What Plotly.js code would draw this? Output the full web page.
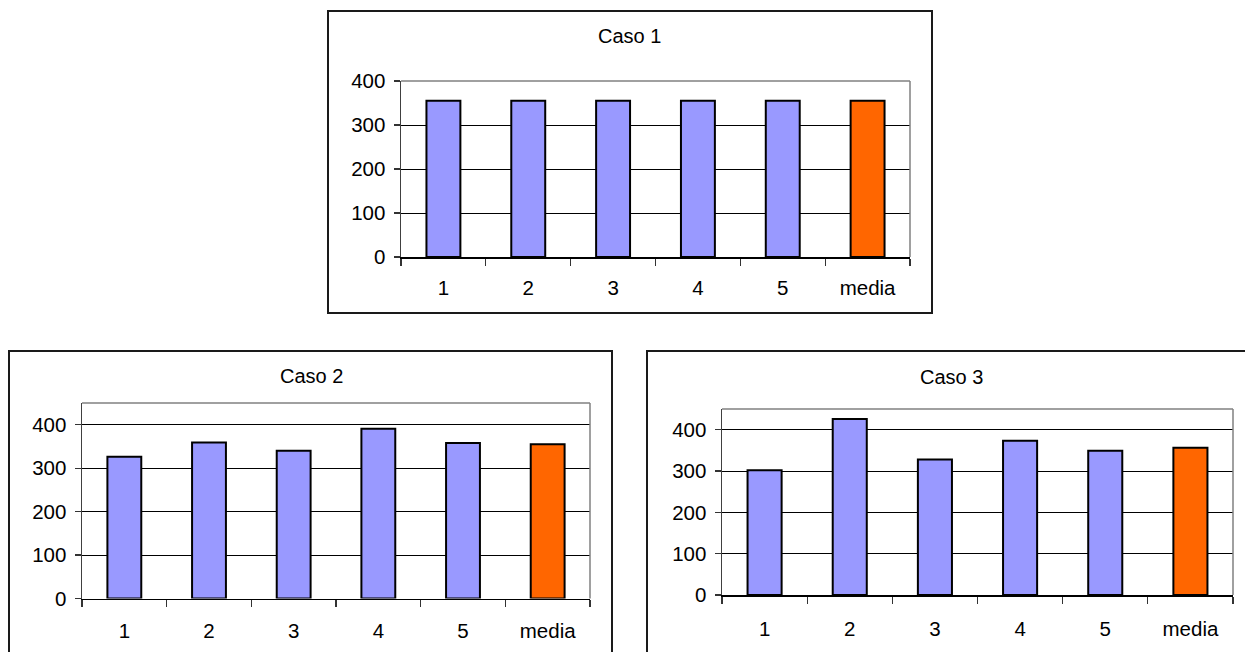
<!DOCTYPE html>
<html>
<head>
<meta charset="utf-8">
<script src="https://cdn.plot.ly/plotly-3.0.1.min.js"></script>
<style>
  html, body { margin: 0; padding: 0; background: #ffffff; }
  #chart { width: 1245px; height: 652px; }
</style>
</head>
<body>
<div id="chart"></div>
<script>
// Categories shared by the three panels
const categories = ["1", "2", "3", "4", "5", "media"];

// Values per case (last entry is the mean)
const caso1 = [355, 355, 355, 355, 355, 355];
const caso2 = [326, 359, 340, 391, 358, 355];
const caso3 = [302, 426, 328, 373, 349, 356];

const titles = ["Caso 1", "Caso 2", "Caso 3"];
const yTickVals = [0, 100, 200, 300, 400];
const yTickText = ["0", "100", "200", "300", "400"];
const yMax = [400, 450, 450];

const W = 1245, H = 652;
const px = v => v / W;
const py = v => 1 - v / H;

const BLUE = "#9999FF";
const ORANGE = "#FF6600";
const FONT = "Liberation Sans, Arial, sans-serif";

// Pixel geometry of each panel: plot area, outer frame, title centre, label gap
const panels = [
  { plot: [401, 910, 81, 257],   box: [328, 932, 11, 313],  title: [629, 36],  gap: 12 },
  { plot: [82, 590, 403, 598.5], box: [9, 612, 351, 700],   title: [311, 376], gap: 13 },
  { plot: [722, 1233, 409, 595], box: [647, 1250, 351, 700], title: [951, 377], gap: 15 }
];

const series = [caso1, caso2, caso3];
const traces = [];
const layout = {
  width: W, height: H,
  margin: { l: 0, r: 0, t: 0, b: 0 },
  paper_bgcolor: "#ffffff",
  plot_bgcolor: "#ffffff",
  showlegend: false,
  font: { family: FONT, color: "#000000", size: 20 },
  shapes: [],
  annotations: []
};

series.forEach((vals, i) => {
  const n = i === 0 ? "" : String(i + 1);
  const p = panels[i];
  traces.push({
    type: "bar",
    x: categories,
    y: vals,
    width: 0.4,
    xaxis: "x" + n,
    yaxis: "y" + n,
    marker: {
      color: categories.map(c => c === "media" ? ORANGE : BLUE),
      line: { color: "#000000", width: 2 }
    },
    hoverinfo: "x+y"
  });

  layout["xaxis" + n] = {
    domain: [px(p.plot[0]), px(p.plot[1])],
    anchor: "y" + n,
    type: "category",
    categoryorder: "array",
    categoryarray: categories,
    range: [-0.5, 5.5],
    showgrid: false,
    showline: true,
    linecolor: "#000000",
    linewidth: 1.5,
    ticks: "outside",
    tickson: "boundaries",
    ticklen: 7,
    tickwidth: 1.2,
    tickcolor: "#333333",
    ticklabelstandoff: p.gap,
    tickfont: { family: FONT, size: 20.5, color: "#000000" },
    fixedrange: true,
    zeroline: false
  };

  layout["yaxis" + n] = {
    domain: [py(p.plot[3]), py(p.plot[2])],
    anchor: "x" + n,
    range: [0, yMax[i]],
    tickvals: yTickVals,
    ticktext: yTickText,
    showgrid: true,
    gridcolor: "#000000",
    gridwidth: 1,
    showline: true,
    linecolor: "#404040",
    linewidth: 1.5,
    ticks: "outside",
    ticklen: 6,
    tickwidth: 1.2,
    tickcolor: "#333333",
    ticklabelstandoff: 4,
    tickfont: { family: FONT, size: 20.5, color: "#000000" },
    zeroline: false,
    fixedrange: true
  };

  // Gray frame on top and right of the plot area
  const xd = "x" + n + " domain", yd = "y" + n + " domain";
  layout.shapes.push(
    { type: "line", xref: xd, yref: yd, x0: 0, x1: 1, y0: 1, y1: 1,
      line: { color: "#808080", width: 1.5 }, layer: "above" },
    { type: "line", xref: xd, yref: yd, x0: 1, x1: 1, y0: 0, y1: 1,
      line: { color: "#808080", width: 1.5 }, layer: "above" }
  );

  // Outer chart border
  layout.shapes.push({
    type: "rect", xref: "paper", yref: "paper",
    x0: px(p.box[0]), x1: px(p.box[1]), y0: py(p.box[3]), y1: py(p.box[2]),
    line: { color: "#1a1a1a", width: 2 }, fillcolor: "rgba(0,0,0,0)", layer: "below"
  });

  layout.annotations.push({
    xref: "paper", yref: "paper",
    x: px(p.title[0]), y: py(p.title[1]),
    xanchor: "center", yanchor: "middle",
    text: titles[i], showarrow: false,
    font: { family: FONT, size: 20, color: "#000000" }
  });
});

Plotly.newPlot("chart", traces, layout, { displayModeBar: false, staticPlot: true });
</script>
</body>
</html>
